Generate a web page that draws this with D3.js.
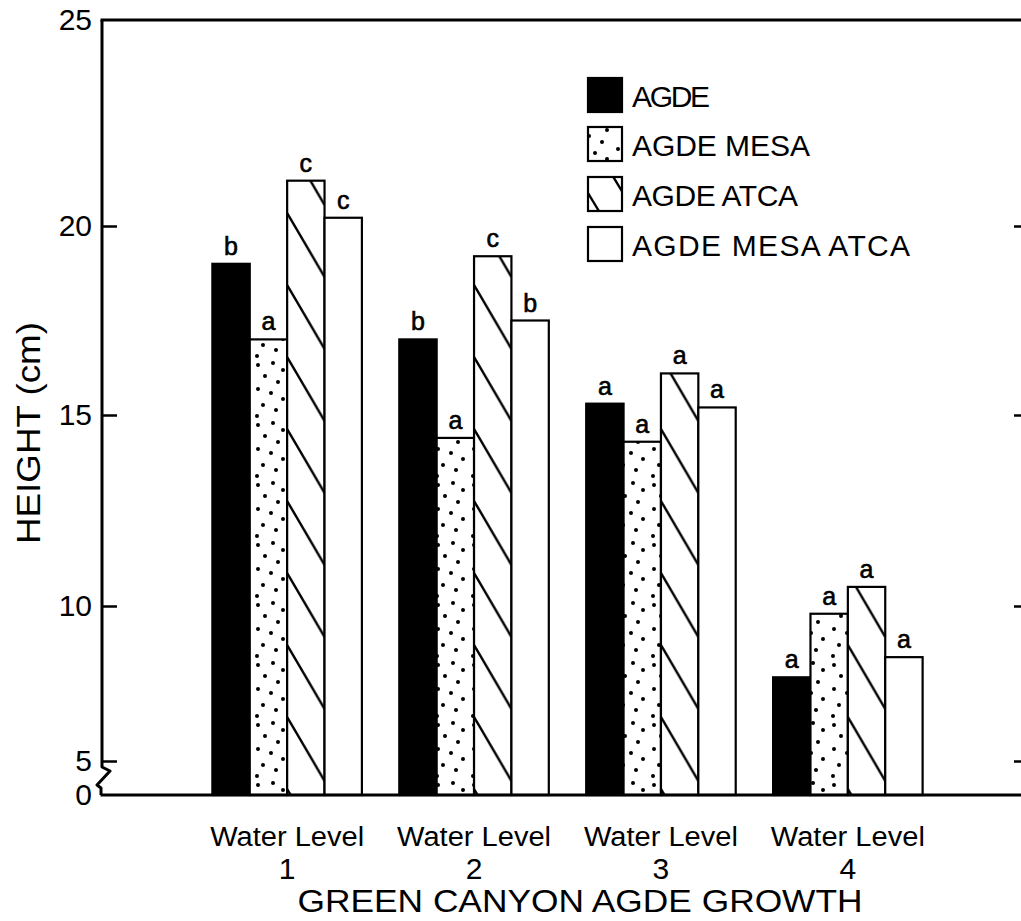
<!DOCTYPE html>
<html><head><meta charset="utf-8">
<script src="https://cdn.jsdelivr.net/npm/d3@7"></script>
<style>body{margin:0;background:#fff}</style>
</head><body><svg id="chart" width="1021" height="921"></svg>
<script>
// ---- data ----
const categories = ["1", "2", "3", "4"];
const categoryLabel = "Water Level";
const seriesNames = ["AGDE", "AGDE MESA", "AGDE ATCA", "AGDE MESA ATCA"];
const agde = [19.0, 17.0, 15.3, 7.7];
const agdeMesa = [17.0, 14.4, 14.3, 9.75];
const agdeAtca = [21.1, 19.2, 16.1, 10.5];
const agdeMesaAtca = [20.2, 17.5, 15.2, 8.35];
const lettersAgde = ["b", "b", "a", "a"];
const lettersAgdeMesa = ["a", "a", "a", "a"];
const lettersAgdeAtca = ["c", "c", "a", "a"];
const lettersAgdeMesaAtca = ["c", "b", "a", "a"];
const yTickValues = [0, 5, 10, 15, 20, 25];
const rightTickValues = [5, 10, 15, 20];
const yLabel = "HEIGHT (cm)";
const xTitle = "GREEN CANYON AGDE GROWTH";

const seriesValues = [agde, agdeMesa, agdeAtca, agdeMesaAtca];
const seriesLetters = [lettersAgde, lettersAgdeMesa, lettersAgdeAtca, lettersAgdeMesaAtca];
const fills = ["solid", "dots", "hatch", "white"];

const FONT = "'Liberation Sans', Arial, sans-serif";
const svg = d3.select("#chart");
const axisX = 102, rightX = 1021;

// broken axis: 0..5 compressed
const y = d3.scaleLinear().domain(yTickValues).range([795, 761, 606, 415, 226, 20]);
const x0 = d3.scaleBand().domain(categories).range([175, 960]).paddingInner(0.2).paddingOuter(0.2);
const x1 = d3.scaleBand().domain(seriesNames).range([0, x0.bandwidth()]);
const bw = x1.bandwidth();

const defs = svg.append("defs");
// dot texture
const dotPts = [[6,5],[21,3],[31,10],[13,16],[26,22],[6,29],[19,33],[31,39],[11,45],[24,50],[5,56]];
const dp = defs.append("pattern").attr("id", "dots").attr("patternUnits", "userSpaceOnUse")
  .attr("width", 36).attr("height", 60);
dp.append("rect").attr("width", 36).attr("height", 60).attr("fill", "#fff");
dp.selectAll("circle").data(dotPts).join("circle")
  .attr("cx", d => d[0]).attr("cy", d => d[1]).attr("r", 2).attr("fill", "#000");

function hatchPattern(id, px, period, drop, off, w) {
  const p = defs.append("pattern").attr("id", id).attr("patternUnits", "userSpaceOnUse")
    .attr("x", px).attr("y", 0).attr("width", w).attr("height", period);
  p.append("rect").attr("width", w).attr("height", period).attr("fill", "#fff");
  [off, off - period].forEach(a => {
    p.append("line").attr("x1", 0).attr("y1", a).attr("x2", w).attr("y2", a + drop)
      .attr("stroke", "#000").attr("stroke-width", 2.4);
  });
}

// ---- bars ----
const rows = [];
categories.forEach((c, ci) => {
  seriesNames.forEach((s, si) => {
    rows.push({ c, s, si, ci, v: seriesValues[si][ci], letter: seriesLetters[si][ci] });
  });
});

rows.forEach(d => {
  const bx = x0(d.c) + x1(d.s);
  let fill = "#000";
  if (fills[d.si] === "dots") fill = "url(#dots)";
  else if (fills[d.si] === "white") fill = "#fff";
  else if (fills[d.si] === "hatch") {
    const id = "hatch" + d.ci;
    hatchPattern(id, bx, 72, 64, 69, bw);
    fill = "url(#" + id + ")";
  }
  d.bx = bx; d.fill = fill;
});

svg.append("g").selectAll("rect").data(rows).join("rect")
  .attr("x", d => d.bx).attr("y", d => y(d.v))
  .attr("width", bw).attr("height", d => y(0) - y(d.v))
  .attr("fill", d => d.fill).attr("stroke", "#000").attr("stroke-width", 2.2);

svg.append("g").selectAll("text").data(rows).join("text")
  .attr("x", d => d.bx + bw / 2).attr("y", d => y(d.v) - 9)
  .attr("text-anchor", "middle").attr("font-family", FONT).attr("font-size", 25)
  .attr("stroke", "#000").attr("stroke-width", 0.6)
  .text(d => d.letter);

// ---- axes / frame ----
const ax = svg.append("g").attr("transform", `translate(${axisX},0)`)
  .call(d3.axisLeft(y).tickValues(yTickValues).tickSizeInner(-15).tickSizeOuter(0).tickPadding(10));
ax.select(".domain").remove();
ax.selectAll(".tick line").attr("stroke", "#000").attr("stroke-width", 2.5)
  .filter(d => d === 0 || d === 25).remove();
ax.selectAll(".tick text").attr("font-family", FONT).attr("font-size", 30).attr("fill", "#000");

const rax = svg.append("g").attr("transform", `translate(${rightX},0)`)
  .call(d3.axisRight(y).tickValues(rightTickValues).tickSize(-7).tickFormat(""));
rax.select(".domain").remove();
rax.selectAll(".tick line").attr("stroke", "#000").attr("stroke-width", 2.5);

// left axis line with break symbol
svg.append("path")
  .attr("d", `M${axisX},${y(25)} V${y(5) + 6} L${axisX + 8},${y(5) + 10} L${axisX - 5},${y(5) + 24} L${axisX - 1},${y(5) + 27} V${y(0)}`)
  .attr("fill", "none").attr("stroke", "#000").attr("stroke-width", 3).attr("stroke-linejoin", "round");
svg.append("line").attr("x1", axisX - 1.5).attr("x2", rightX).attr("y1", y(25)).attr("y2", y(25))
  .attr("stroke", "#000").attr("stroke-width", 3);
svg.append("line").attr("x1", axisX - 1.5).attr("x2", rightX).attr("y1", y(0)).attr("y2", y(0))
  .attr("stroke", "#000").attr("stroke-width", 3);

// ---- x labels ----
const xl = svg.append("g").attr("font-family", FONT).attr("fill", "#000");
categories.forEach(c => {
  const cx = x0(c) + x0.bandwidth() / 2;
  xl.append("text").attr("x", cx).attr("y", 846).attr("text-anchor", "middle")
    .attr("font-size", 27).attr("textLength", 154).attr("lengthAdjust", "spacingAndGlyphs").text(categoryLabel);
  xl.append("text").attr("x", cx).attr("y", 879).attr("text-anchor", "middle")
    .attr("font-size", 30).text(c);
});
xl.append("text").attr("x", 580).attr("y", 912).attr("text-anchor", "middle")
  .attr("font-size", 32).attr("textLength", 565).attr("lengthAdjust", "spacingAndGlyphs").text(xTitle);

// y label
svg.append("text").attr("transform", "translate(40,433) rotate(-90)")
  .attr("text-anchor", "middle").attr("font-family", FONT).attr("font-size", 34)
  .attr("textLength", 222).attr("lengthAdjust", "spacingAndGlyphs").text(yLabel);

// ---- legend ----
const lg = svg.append("g");
const legY = [78, 127, 177, 227];
const legLen = [78, 178, 166, 278];
seriesNames.forEach((s, i) => {
  let fill = "#000";
  if (fills[i] === "dots") fill = "url(#dots)";
  else if (fills[i] === "white") fill = "#fff";
  else if (fills[i] === "hatch") {
    hatchPattern("hatchLeg", 588, 58, 58, legY[i] + 16 - 58 * 3, 35);
    fill = "url(#hatchLeg)";
  }
  lg.append("rect").attr("x", 588).attr("y", legY[i]).attr("width", 34).attr("height", 34)
    .attr("fill", fill).attr("stroke", "#000").attr("stroke-width", 2.2);
  lg.append("text").attr("x", 632).attr("y", legY[i] + 29).attr("font-family", FONT)
    .attr("font-size", 30).attr("textLength", legLen[i]).attr("lengthAdjust", "spacing").text(s);
});
</script></body></html>
